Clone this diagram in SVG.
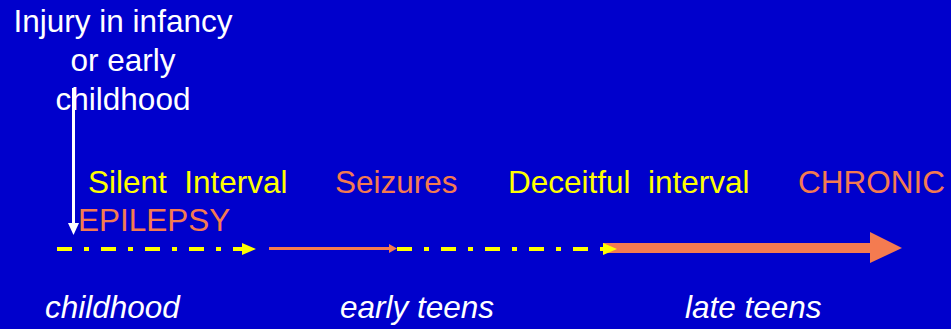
<svg xmlns="http://www.w3.org/2000/svg" width="951" height="329" viewBox="0 0 951 329">
  <style>
    text { font-family: "Liberation Sans", Arial, sans-serif; font-size: 31.5px; }
    .white { fill: #FFFFFF; }
    .yellow { fill: #FFFF00; }
    .orange { fill: #F47B50; }
    .ital { font-style: italic; }
    .dashdot { stroke: #FFFF00; stroke-width: 4; stroke-dasharray: 15 12 5 12; fill: none; }
  </style>
  <defs>
    <marker id="yellowHead" markerUnits="userSpaceOnUse" markerWidth="14" markerHeight="12" viewBox="0 0 14 12" refX="0" refY="6" orient="auto">
      <polygon points="0,0 14,6 0,12" fill="#FFFF00"/>
    </marker>
  </defs>

  <!-- background -->
  <rect x="0" y="0" width="951" height="329" fill="#0000CC"/>

  <!-- top label -->
  <g id="injury">
    <text class="white" x="123" y="32" text-anchor="middle">Injury in infancy</text>
    <text class="white" x="123" y="71" text-anchor="middle">or early</text>
    <text class="white" x="123" y="110" text-anchor="middle">childhood</text>
  </g>

  <!-- phase labels -->
  <g id="silent-interval">
    <text class="yellow" x="88" y="193" xml:space="preserve">Silent  Interval</text>
  </g>
  <g id="seizures">
    <text class="orange" x="335" y="193">Seizures</text>
  </g>
  <g id="deceitful-interval">
    <text class="yellow" x="508" y="193" xml:space="preserve">Deceitful  interval</text>
  </g>
  <g id="chronic-epilepsy">
    <text class="orange" x="798" y="193">CHRONIC</text>
    <text class="orange" x="78" y="231">EPILEPSY</text>
  </g>

  <!-- age labels -->
  <g id="age-childhood">
    <text class="white ital" x="45" y="318">childhood</text>
  </g>
  <g id="age-early-teens">
    <text class="white ital" x="340" y="318">early teens</text>
  </g>
  <g id="age-late-teens">
    <text class="white ital" x="685" y="318">late teens</text>
  </g>

  <!-- timeline connectors -->
  <g id="connectors">
    <!-- injury marker -->
    <line x1="73.5" y1="88" x2="73.5" y2="224" stroke="#FFFFFF" stroke-width="3"/>
    <polygon points="68,223 79,223 73.5,235" fill="#FFFFFF"/>

    <!-- silent interval -->
    <line class="dashdot" x1="57" y1="249" x2="242" y2="249" marker-end="url(#yellowHead)"/>

    <!-- seizures -->
    <line x1="269" y1="248.5" x2="390" y2="248.5" stroke="#F47B50" stroke-width="3"/>
    <polygon points="389,244 397,248.5 389,253" fill="#F47B50"/>

    <!-- chronic epilepsy -->
    <polygon points="603,243 870,243 870,232 902,248 870,263 870,253 603,253" fill="#F47B50"/>

    <!-- deceitful interval -->
    <line class="dashdot" x1="397" y1="249" x2="603" y2="249" marker-end="url(#yellowHead)"/>
  </g>
</svg>
